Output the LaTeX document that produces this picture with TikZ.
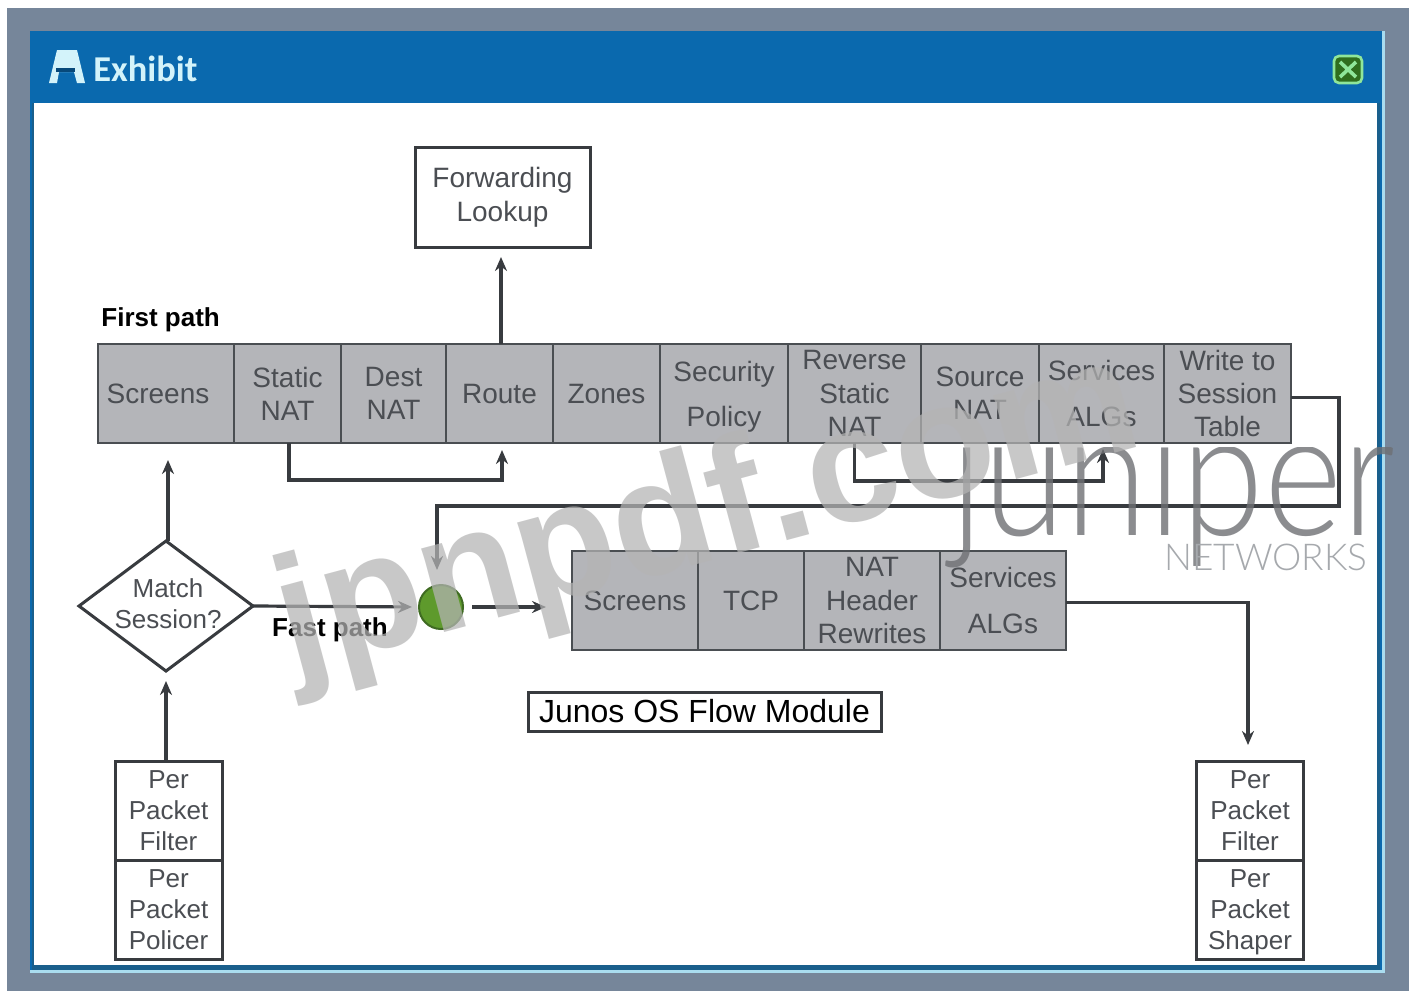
\documentclass[tikz,border=0pt]{standalone}
\usepackage{fontspec}
\setmainfont{Liberation Sans}
\newfontfamily\logofont{Lato Light}
\newfontfamily\titlefont{Carlito}
\usetikzlibrary{arrows.meta,shapes.geometric,positioning}
\definecolor{frame}{HTML}{76869A}
\definecolor{winblue}{HTML}{0A69AE}
\definecolor{edgedark}{HTML}{1A5F8C}
\definecolor{edgelight}{HTML}{A9DCEF}
\definecolor{titletext}{HTML}{D3F3FA}
\definecolor{cellfill}{HTML}{B4B5B9}
\definecolor{cellline}{HTML}{4A4E52}
\definecolor{labtext}{HTML}{4B4E53}
\definecolor{wire}{HTML}{383B3F}
\definecolor{dotgreen}{HTML}{5E9A2C}
\definecolor{dotline}{HTML}{3F6B22}
\definecolor{closegreen}{HTML}{8FE69A}
\definecolor{closedark}{HTML}{2F6E1E}
\definecolor{stamp}{HTML}{B4B4B4}
\definecolor{logoink}{HTML}{6E7074}
\definecolor{logotag}{HTML}{A6A9AD}
\tikzset{
  % ---- boxes -----------------------------------------------------
  cellbox/.style  = {rectangle, draw=cellline, fill=cellfill, line width=1.4pt,
                     inner sep=0pt, outer sep=0pt, minimum height=49.5pt,
                     align=center, text=labtext,
                     font=\fontsize{14}{16.6}\selectfont},
  plainbox/.style = {rectangle, draw=wire, fill=white, line width=1.5pt,
                     inner sep=0pt, outer sep=0pt, align=center},
  perbox/.style   = {plainbox, minimum width=53.5pt, minimum height=49.5pt,
                     text=labtext, font=\fontsize{13}{15.4}\selectfont},
  % ---- connectors ------------------------------------------------
  flow/.style     = {draw=wire, line width=1.6pt,
                     -{Stealth[length=7pt,width=6pt]}},
  % ---- labels ----------------------------------------------------
  pathlab/.style  = {font=\fontsize{13}{15}\selectfont\bfseries, text=black,
                     inner sep=0pt},
}
\begin{document}
\begin{tikzpicture}[x=.5pt,y=-.5pt]
  \useasboundingbox (0,0) rectangle (1409,991);
  % window
  \fill[frame] (7,8) rectangle (1409,991);
  \fill[edgelight] (30,31) rectangle (1385,973);
  \fill[winblue] (30,31) rectangle (1382,970);
  \fill[edgedark] (32,103) rectangle (1380,970);
  \fill[white] (34,103) rectangle (1377,965);
  \fill[titletext] (57,50) -- (77,50) -- (85,83) -- (77,83) -- (74,72) -- (59,72) -- (57,83) -- (49,83) -- cycle;
  \fill[winblue!70!black] (56,68) rectangle (75,72);
  \node[font=\fontsize{18.2}{22}\titlefont\bfseries, text=titletext, inner sep=0pt, anchor=west] (title) at (93,69) {Exhibit};
  \draw[closegreen, fill=closedark, line width=1.3pt, rounded corners=2.5pt] (1334,56) rectangle (1362,83);
  \draw[closegreen, line width=1.8pt] (1340,62) -- (1356,77) (1356,62) -- (1340,77);
  % first path
  \node[plainbox, minimum width=87.5pt, minimum height=50pt, text=labtext, font=\fontsize{14}{17}\selectfont] (fwd) at (502.5,197) {Forwarding\\Lookup};
  \node[pathlab, anchor=west] (first) at (101,320) {First path};
  \node[cellbox, minimum width=68pt] (scr) at (166,393.5) {Screens\hspace*{8pt}};
  \node[cellbox, minimum width=53.5pt] (snat) at (287.5,393.5) {Static\\NAT};
  \node[cellbox, minimum width=52.5pt] (dnat) at (393.5,393.5) {Dest\\NAT};
  \node[cellbox, minimum width=53.5pt] (route) at (499.5,393.5) {Route};
  \node[cellbox, minimum width=53.5pt] (zones) at (606.5,393.5) {Zones};
  \node[cellbox, minimum width=64pt] (secp) at (724,393.5) {Security\\[6pt]\raisebox{0pt}[\height][0pt]{Policy}};
  \node[cellbox, minimum width=66.5pt] (rsn) at (854.5,393.5) {Reverse\\Static\\NAT};
  \node[cellbox, minimum width=59pt] (srcn) at (980,393.5) {Source\\NAT};
  \node[cellbox, minimum width=62.5pt] (salg) at (1101.5,393.5) {Services\\[6pt]ALGs};
  \node[cellbox, minimum width=63.5pt] (wst) at (1227.5,393.5) {Write to\\Session\\Table};
  % fast path
  \node[diamond, draw=wire, fill=white, line width=1.5pt, inner sep=0pt, outer sep=0pt, minimum width=87pt, minimum height=65pt] (match) at (166,606) {};
  \node[text=labtext, align=center, inner sep=0pt, font=\fontsize{13}{15.4}\selectfont] (matchlab) at (168,604) {Match\\Session?};
  \node[pathlab] (fast) at (330,630) {Fast path};
  \node[circle, draw=dotline, fill=dotgreen, line width=1pt, inner sep=0pt, outer sep=0pt, minimum size=22pt] (dot) at (441,607) {};
  \node[cellbox, minimum width=63pt] (scrb) at (635,600.5) {Screens};
  \node[cellbox, minimum width=53pt] (tcp) at (751,600.5) {TCP};
  \node[cellbox, minimum width=68pt] (nath) at (872,600.5) {NAT\\Header\\Rewrites};
  \node[cellbox, minimum width=63pt] (salgb) at (1003,600.5) {Services\\[6pt]ALGs};
  \node[plainbox, minimum width=176.5pt, minimum height=19.5pt, text=black, font=\fontsize{16}{18}\selectfont] (flowmod) at (704.5,711.5) {Junos OS Flow Module};
  % per packet boxes
  \node[perbox] (pfa) at (168.5,810.5) {Per\\Packet\\Filter};
  \node[perbox, below=0pt of pfa] (ppol) {Per\\Packet\\Policer};
  \node[perbox] (pfb) at (1250,810.5) {Per\\Packet\\Filter};
  \node[perbox, below=0pt of pfb] (psha) {Per\\Packet\\\raisebox{0pt}[\height][0pt]{Shaper}};
  % connectors
  \coordinate (scrin) at (168,460);
  \coordinate (fwdin) at (501,300);
  \coordinate (routein) at (502,450);
  \coordinate (salgin) at (1103,449);
  \coordinate (wback) at (1339,506);
  \coordinate (drop) at (437,570);
  \coordinate (shapein) at (1248,700);
  \draw[flow, shorten >=5pt] (route.north -| fwdin) -- (fwd.south -| fwdin);
  \draw[flow] ([xshift=.75pt]snat.south) -- ++(0,37) -| (routein);
  \draw[flow] (rsn.south) -- ++(0,38) -| (salgin);
  \draw[flow] ([yshift=-2pt]wst.east) -| (wback) -| (drop);
  \draw[flow] (match.north -| scrin) -- (scrin);
  \draw[flow, shorten >=5pt] (match.south |- pfa.north) -- (match.south);
  \draw[flow, shorten >=3.5pt] (match.east) -- (dot.west);
  \draw[flow, shorten <=4.5pt, shorten >=13pt] (dot.east) -- (scrb.west |- dot.east);
  \draw[flow, shorten >=8pt] ([yshift=-1pt]salgb.east) -| (pfb.north -| shapein);
  % overlays
  \begin{scope}
    \clip (900,447) rectangle (1409,600);
    \node[text=logoink, text opacity=.8, inner sep=0pt, anchor=base west, xscale=.85, transform shape, font=\fontsize{88}{90}\logofont] (logo) at (950,535) {juniper};
  \end{scope}
  \node[text=logotag, inner sep=0pt, anchor=base east, font=\fontsize{18.5}{20}\logofont] (nets) at (1368,570) {NETWORKS};
  \node[text=stamp, text opacity=.72, rotate=15, inner sep=0pt, font=\fontsize{82}{90}\selectfont\bfseries] (mark) at (708,518) {jpnpdf.com};
\end{tikzpicture}
\end{document}
